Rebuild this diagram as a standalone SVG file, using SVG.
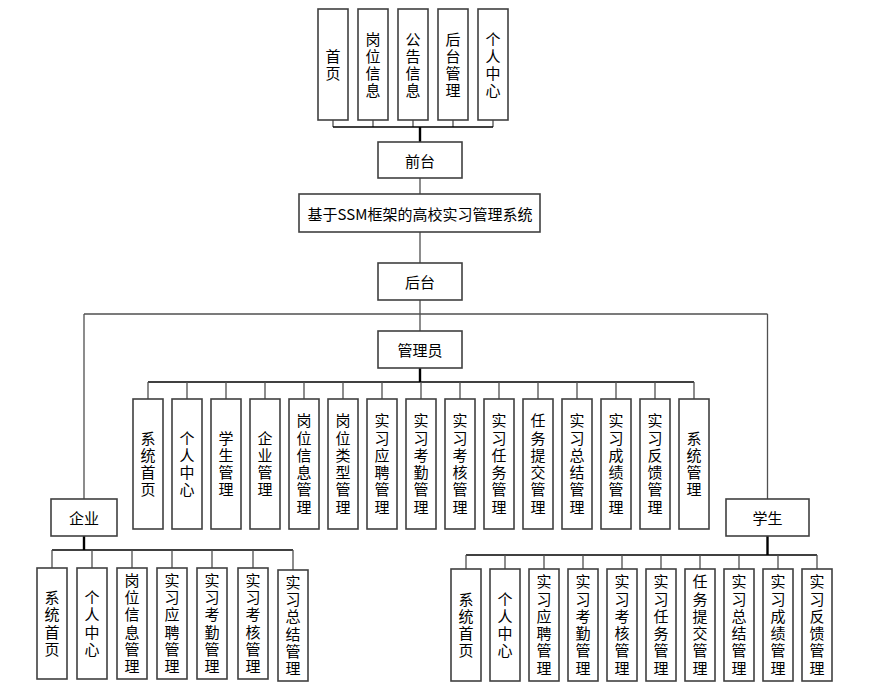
<svg xmlns="http://www.w3.org/2000/svg" width="889" height="692" viewBox="0 0 889 692">
<style>
.b{fill:#fff;stroke:#404040;stroke-width:1.6}
.t{font-family:"Noto Sans CJK SC","Liberation Sans",sans-serif;font-size:15px;fill:#000;text-anchor:middle;dominant-baseline:central}
.v{font-family:"Noto Sans CJK SC","Liberation Sans",sans-serif;font-size:15px;fill:#000;text-anchor:middle;writing-mode:vertical-rl;letter-spacing:2.3px}
.c{fill:none;stroke:#505050;stroke-width:1.3}
.k{fill:none;stroke:#000;stroke-width:1.6}
.kk{fill:none;stroke:#000;stroke-width:2.4}
</style>
<rect width="889" height="692" fill="#fff"/>
<g id="connectors">
<path class="c" d="M333 120V127M373 120V127M413 120V127M453 120V127M493 120V127"/>
<path class="k" d="M333 127H493"/>
<path class="kk" d="M420 127V142"/>
<path class="c" d="M420 178V194M420 232V263M420 300V331"/>
<path class="c" d="M84 314H767.5M84 314V499M767.5 314V499"/>
<path class="kk" d="M420 368V382"/>
<path class="k" d="M148 382H694"/>
<path class="c" d="M148 382V399M187 382V399M226 382V399M265 382V399M304 382V399M343 382V399M382 382V399M421 382V399M460 382V399M499 382V399M538 382V399M577 382V399M616 382V399M655 382V399M694 382V399"/>
<path class="kk" d="M84 536V550"/>
<path class="k" d="M52 550H293"/>
<path class="c" d="M52 550V568M92 550V568M132 550V568M172 550V568M212 550V568M253 550V568M293 550V570"/>
<path class="kk" d="M767.5 536V555"/>
<path class="k" d="M466 555H817"/>
<path class="c" d="M466 555V569M505 555V569M544 555V569M583 555V569M622 555V569M661 555V569M700 555V569M739 555V569M778 555V569M817 555V569"/>
</g>
<g id="f1"><rect class="b" x="318" y="9" width="30" height="111"/><text class="v" x="333" y="66">首页</text></g>
<g id="f2"><rect class="b" x="358" y="9" width="30" height="111"/><text class="v" x="373" y="66">岗位信息</text></g>
<g id="f3"><rect class="b" x="398" y="9" width="30" height="111"/><text class="v" x="413" y="66">公告信息</text></g>
<g id="f4"><rect class="b" x="438" y="9" width="30" height="111"/><text class="v" x="453" y="66">后台管理</text></g>
<g id="f5"><rect class="b" x="478" y="9" width="30" height="111"/><text class="v" x="493" y="66">个人中心</text></g>
<g id="qiantai"><rect class="b" x="378" y="142" width="84" height="36"/><text class="t" x="420" y="160">前台</text></g>
<g id="system"><rect class="b" x="299" y="194" width="241" height="38"/><text class="t" x="420" y="213">基于SSM框架的高校实习管理系统</text></g>
<g id="houtai"><rect class="b" x="378" y="263" width="84" height="37"/><text class="t" x="420" y="281.5">后台</text></g>
<g id="admin"><rect class="b" x="378" y="331" width="84" height="37"/><text class="t" x="420" y="349.5">管理员</text></g>
<g id="a1"><rect class="b" x="133" y="399" width="30" height="130"/><text class="v" x="148" y="465">系统首页</text></g>
<g id="a2"><rect class="b" x="172" y="399" width="30" height="130"/><text class="v" x="187" y="465">个人中心</text></g>
<g id="a3"><rect class="b" x="211" y="399" width="30" height="130"/><text class="v" x="226" y="465">学生管理</text></g>
<g id="a4"><rect class="b" x="250" y="399" width="30" height="130"/><text class="v" x="265" y="465">企业管理</text></g>
<g id="a5"><rect class="b" x="289" y="399" width="30" height="130"/><text class="v" x="304" y="465">岗位信息管理</text></g>
<g id="a6"><rect class="b" x="328" y="399" width="30" height="130"/><text class="v" x="343" y="465">岗位类型管理</text></g>
<g id="a7"><rect class="b" x="367" y="399" width="30" height="130"/><text class="v" x="382" y="465">实习应聘管理</text></g>
<g id="a8"><rect class="b" x="406" y="399" width="30" height="130"/><text class="v" x="421" y="465">实习考勤管理</text></g>
<g id="a9"><rect class="b" x="445" y="399" width="30" height="130"/><text class="v" x="460" y="465">实习考核管理</text></g>
<g id="a10"><rect class="b" x="484" y="399" width="30" height="130"/><text class="v" x="499" y="465">实习任务管理</text></g>
<g id="a11"><rect class="b" x="523" y="399" width="30" height="130"/><text class="v" x="538" y="465">任务提交管理</text></g>
<g id="a12"><rect class="b" x="562" y="399" width="30" height="130"/><text class="v" x="577" y="465">实习总结管理</text></g>
<g id="a13"><rect class="b" x="601" y="399" width="30" height="130"/><text class="v" x="616" y="465">实习成绩管理</text></g>
<g id="a14"><rect class="b" x="640" y="399" width="30" height="130"/><text class="v" x="655" y="465">实习反馈管理</text></g>
<g id="a15"><rect class="b" x="679" y="399" width="30" height="130"/><text class="v" x="694" y="465">系统管理</text></g>
<g id="qiye"><rect class="b" x="51" y="499" width="66" height="37"/><text class="t" x="84" y="517.5">企业</text></g>
<g id="e1"><rect class="b" x="37" y="568" width="30" height="111"/><text class="v" x="52" y="624.5">系统首页</text></g>
<g id="e2"><rect class="b" x="77" y="568" width="30" height="111"/><text class="v" x="92" y="624.5">个人中心</text></g>
<g id="e3"><rect class="b" x="117" y="568" width="30" height="111"/><text class="v" x="132" y="624.5">岗位信息管理</text></g>
<g id="e4"><rect class="b" x="157" y="568" width="30" height="111"/><text class="v" x="172" y="624.5">实习应聘管理</text></g>
<g id="e5"><rect class="b" x="197" y="568" width="30" height="111"/><text class="v" x="212" y="624.5">实习考勤管理</text></g>
<g id="e6"><rect class="b" x="238" y="568" width="30" height="111"/><text class="v" x="253" y="624.5">实习考核管理</text></g>
<g id="e7"><rect class="b" x="278" y="570" width="30" height="111"/><text class="v" x="293" y="626.5">实习总结管理</text></g>
<g id="xuesheng"><rect class="b" x="726" y="499" width="83" height="37"/><text class="t" x="767.5" y="517.5">学生</text></g>
<g id="s1"><rect class="b" x="451" y="569" width="30" height="112"/><text class="v" x="466" y="626">系统首页</text></g>
<g id="s2"><rect class="b" x="490" y="569" width="30" height="112"/><text class="v" x="505" y="626">个人中心</text></g>
<g id="s3"><rect class="b" x="529" y="569" width="30" height="112"/><text class="v" x="544" y="626">实习应聘管理</text></g>
<g id="s4"><rect class="b" x="568" y="569" width="30" height="112"/><text class="v" x="583" y="626">实习考勤管理</text></g>
<g id="s5"><rect class="b" x="607" y="569" width="30" height="112"/><text class="v" x="622" y="626">实习考核管理</text></g>
<g id="s6"><rect class="b" x="646" y="569" width="30" height="112"/><text class="v" x="661" y="626">实习任务管理</text></g>
<g id="s7"><rect class="b" x="685" y="569" width="30" height="112"/><text class="v" x="700" y="626">任务提交管理</text></g>
<g id="s8"><rect class="b" x="724" y="569" width="30" height="112"/><text class="v" x="739" y="626">实习总结管理</text></g>
<g id="s9"><rect class="b" x="763" y="569" width="30" height="112"/><text class="v" x="778" y="626">实习成绩管理</text></g>
<g id="s10"><rect class="b" x="802" y="569" width="30" height="112"/><text class="v" x="817" y="626">实习反馈管理</text></g>
</svg>
